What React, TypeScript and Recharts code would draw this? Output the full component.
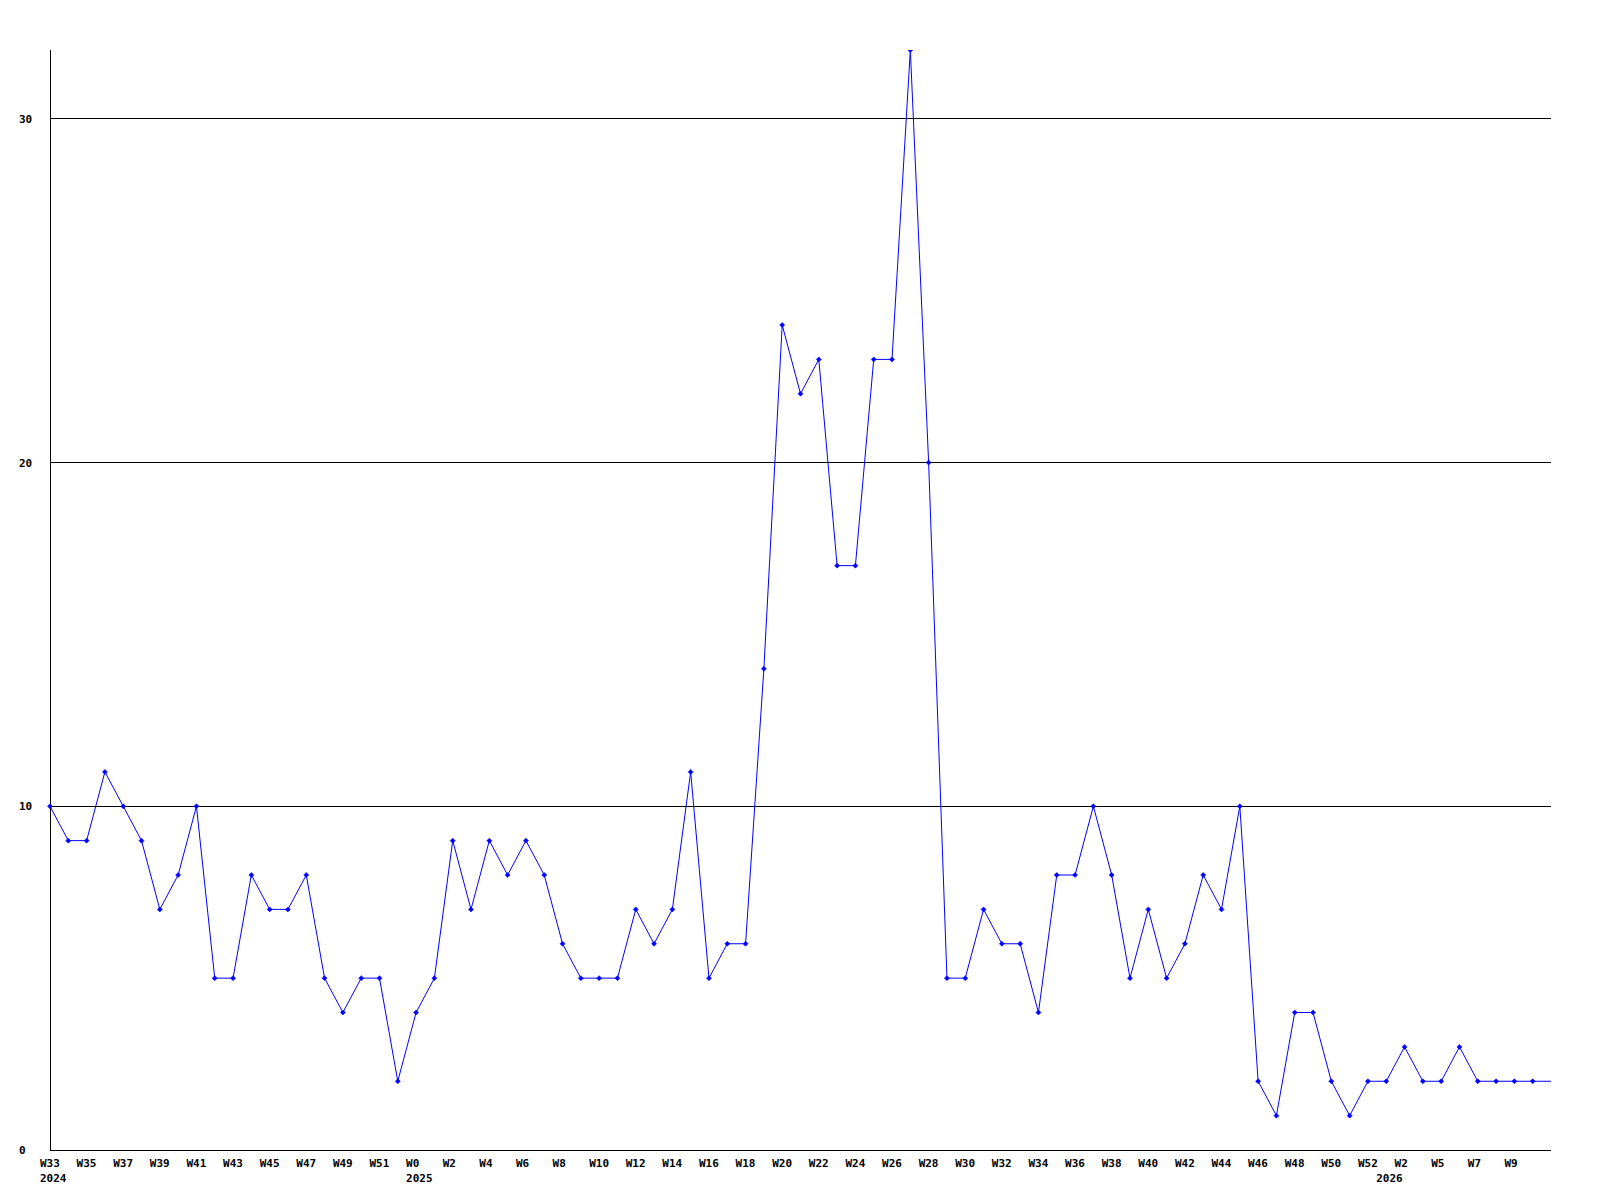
import React from 'react';
import { LineChart, Line, XAxis, YAxis, ReferenceLine } from 'recharts';

// weekly counts, one per week starting W33 2024
const counts = [
  10, 9, 9, 11, 10, 9, 7, 8, 10, 5,
  5, 8, 7, 7, 8, 5, 4, 5, 5, 2,
  4, 5, 9, 7, 9, 8, 9, 8, 6, 5,
  5, 5, 7, 6, 7, 11, 5, 6, 6, 14,
  24, 22, 23, 17, 17, 23, 23, 32, 20, 5,
  5, 7, 6, 6, 4, 8, 8, 10, 8, 5,
  7, 5, 6, 8, 7, 10, 2, 1, 4, 4,
  2, 1, 2, 2, 3, 2, 2, 3, 2, 2,
  2, 2, 2,
];

const weekTickPos = [
  0, 2, 4, 6, 8, 10, 12, 14, 16, 18,
  20, 22, 24, 26, 28, 30, 32, 34, 36, 38, 40, 42, 44, 46, 48, 50, 52, 54, 56, 58, 60, 62, 64, 66, 68, 70, 72,
  74, 76, 78, 80,
];
const weekTickLabels = [
  'W33', 'W35', 'W37', 'W39', 'W41', 'W43', 'W45', 'W47', 'W49', 'W51',
  'W0', 'W2', 'W4', 'W6', 'W8', 'W10', 'W12', 'W14', 'W16', 'W18', 'W20', 'W22', 'W24', 'W26', 'W28',
  'W30', 'W32', 'W34', 'W36', 'W38', 'W40', 'W42', 'W44', 'W46', 'W48', 'W50', 'W52',
  'W2', 'W5', 'W7', 'W9',
];
const yearTickPos = [0, 20, 73];
const yearTickLabels = ['2024', '2025', '2026'];

const yTicks = [0, 10, 20, 30];
const gridValues = [10, 20, 30];

const data = counts.map((v, i) => ({ i, v }));
const allTicks = Array.from(new Set([...weekTickPos, ...yearTickPos])).sort((a, b) => a - b);

const W = 1600;
const H = 1200;
const PLOT_BOTTOM = 1150;
const FONT = '"DejaVu Sans Mono", monospace';

if (typeof document !== 'undefined') document.body.style.margin = '0';

function XTick(props: any) {
  const { x, payload } = props;
  const wi = weekTickPos.indexOf(payload.value);
  const yi = yearTickPos.indexOf(payload.value);
  return (
    <g>
      {wi >= 0 && (
        <text x={x - 10} y={PLOT_BOTTOM + 16.5} textAnchor="start" fontFamily={FONT} fontWeight="bold" fontSize={11} fill="#000">
          {weekTickLabels[wi]}
        </text>
      )}
      {yi >= 0 && (
        <text x={x - 10} y={PLOT_BOTTOM + 31.5} textAnchor="start" fontFamily={FONT} fontWeight="bold" fontSize={11} fill="#000">
          {yearTickLabels[yi]}
        </text>
      )}
    </g>
  );
}

function YTick(props: any) {
  const { y, payload } = props;
  return (
    <text x={19} y={y} dy={4} textAnchor="start" fontFamily={FONT} fontWeight="bold" fontSize={11} fill="#000">
      {payload.value}
    </text>
  );
}

function Marker(props: any) {
  const { cx, cy, index } = props;
  if (index === counts.length - 1 || cx == null) return <g key={index} />;
  return (
    <path
      key={index}
      d={`M${cx},${cy - 2.5}L${cx + 2.5},${cy}L${cx},${cy + 2.5}L${cx - 2.5},${cy}Z`}
      fill="#0000ff"
      stroke="#0000ff"
      strokeWidth={0.6}
    />
  );
}

export default function App() {
  return (
    <div style={{ width: W, height: H, background: '#fff' }}>
      <LineChart width={W} height={H} data={data} margin={{ top: 50, right: 49, left: 0, bottom: 0 }}>
        <XAxis
          dataKey="i"
          type="number"
          domain={[0, counts.length - 1]}
          ticks={allTicks}
          interval={0}
          height={50}
          tickLine={false}
          axisLine={{ stroke: '#000', shapeRendering: 'crispEdges' }}
          tick={<XTick />}
        />
        <YAxis
          domain={[0, 32]}
          ticks={yTicks}
          width={50}
          tickLine={false}
          axisLine={{ stroke: '#000', shapeRendering: 'crispEdges' }}
          tick={<YTick />}
          allowDataOverflow
        />
        {gridValues.map((g) => (
          <ReferenceLine key={g} y={g} stroke="#000" strokeWidth={1} shapeRendering="crispEdges" />
        ))}
        <Line
          type="linear"
          dataKey="v"
          stroke="#0000ff"
          strokeWidth={1}
          dot={<Marker />}
          activeDot={false}
          isAnimationActive={false}
        />
      </LineChart>
    </div>
  );
}
